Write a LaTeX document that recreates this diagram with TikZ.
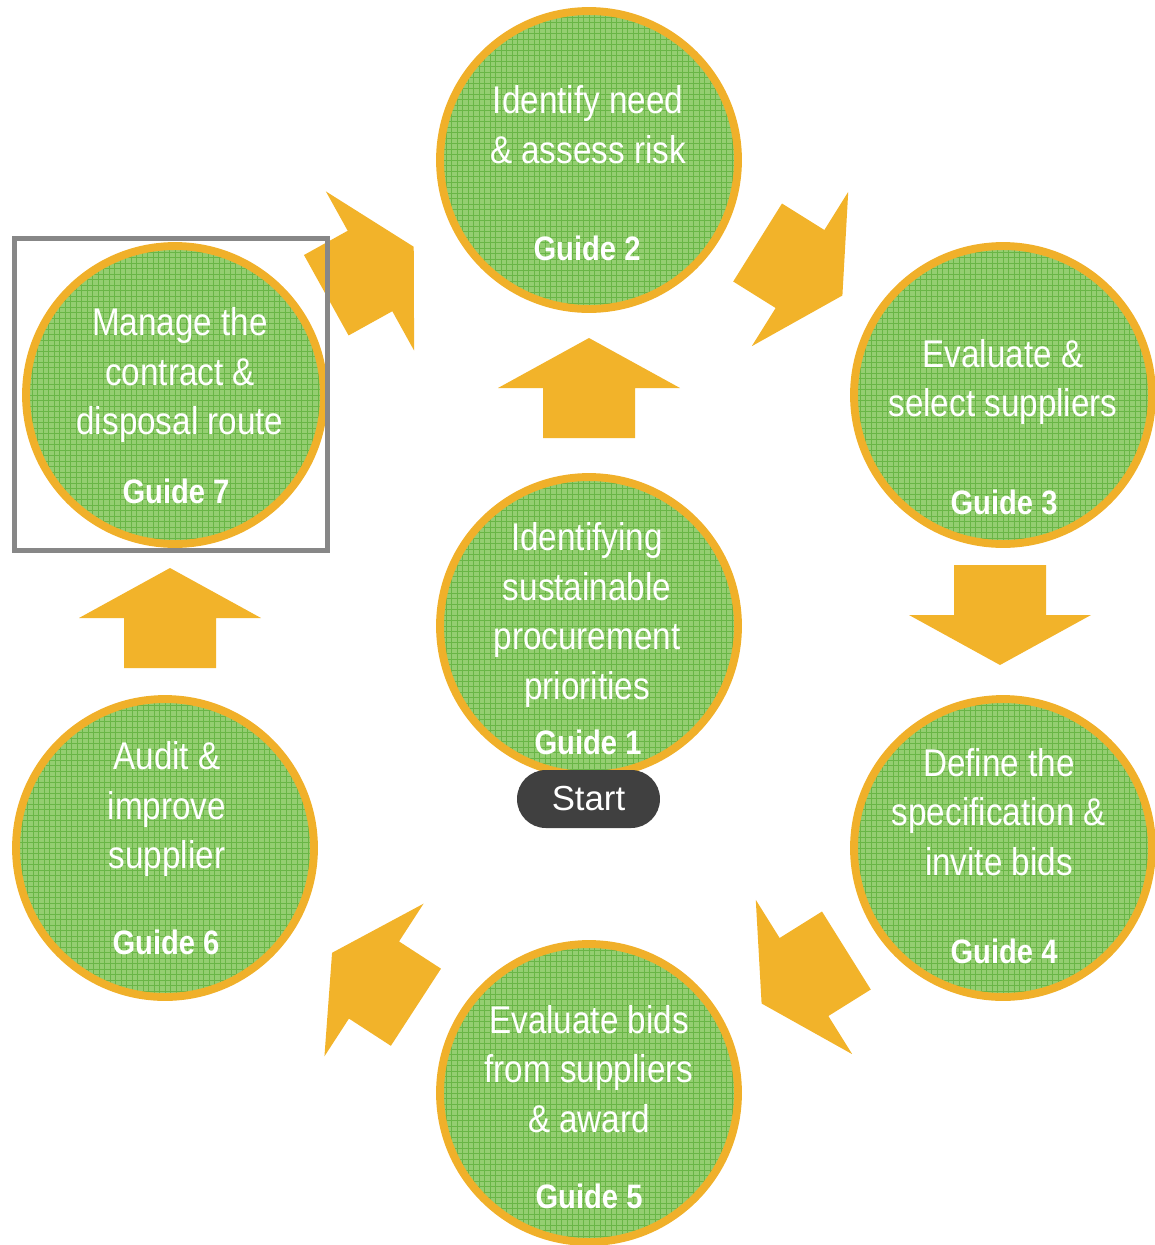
\documentclass[tikz,border=0pt]{standalone}
\usepackage{fontspec}
\setmainfont{Liberation Sans}[FakeStretch=0.86]
\newfontfamily\startfont{Liberation Sans}
\usetikzlibrary{calc}

\definecolor{arroworange}{HTML}{F2B32A}
\definecolor{ringorange}{HTML}{F0B02A}
\definecolor{leafgreen}{HTML}{94CE71}
\definecolor{gridgreen}{HTML}{69B646}
\definecolor{pillgray}{HTML}{404040}
\definecolor{framegray}{HTML}{878787}

\tikzset{
  guidecircle/.style={circle, draw=ringorange, line width=4.5pt, minimum size=5.96cm, inner sep=0pt,
    path picture={
      \fill[leafgreen] (path picture bounding box.south west) rectangle (path picture bounding box.north east);
      \draw[gridgreen, line width=0.45pt] (path picture bounding box.south west) grid[step=0.11cm] (path picture bounding box.north east);
    }},
  bodytext/.style={text=white, align=center, inner sep=0pt, font=\fontsize{22}{28.35}\selectfont},
  guidetext/.style={text=white, inner sep=0pt, font=\bfseries\fontsize{19.3}{23}\selectfont},
  blockarrow/.pic={
    \fill[arroworange] (-50,-46) -- (0,-46) -- (0,-91) -- (50,0) -- (0,91) -- (0,46) -- (-50,46) -- cycle;
  }
}

\begin{document}
\begin{tikzpicture}[x=0.02cm, y=-0.02cm]
  \useasboundingbox (0,0) rectangle (1155,1245);

  % arrows between the steps
  \foreach \ax/\ay/\ang in {589/388/90, 170/618/90, 1000/615/-90, 370/271/29, 800/269/-32, 804/977/-148, 374/980/147} {
    \pic[rotate=\ang] at (\ax,\ay) {blockarrow};
  }

  % circles
  \foreach \n/\cx/\cy in {1/589/626, 2/589/160, 3/1003/395, 4/1003/848, 5/589/1093, 6/165/848, 7/175/395} {
    \node[guidecircle] (g\n) at (\cx,\cy) {};
  }

  % texts
  \node[bodytext] (t1) at (587,615) {Identifying\\sustainable\\procurement\\priorities};
  \node[guidetext] (l1) at (588,742) {Guide 1};
  \node[bodytext] (t2) at (588,125) {Identify need\\\& assess risk};
  \node[guidetext] (l2) at (587,248) {Guide 2};
  \node[bodytext] (t3) at (1003,382) {Evaluate \&\\select suppliers};
  \node[guidetext] (l3) at (1004,502) {Guide 3};
  \node[bodytext] (t4) at (999,812) {Define the\\specification \&\\invite bids};
  \node[guidetext] (l4) at (1004,951) {Guide 4};
  \node[bodytext] (t5) at (589,1069) {Evaluate bids\\from suppliers\\\& award};
  \node[guidetext] (l5) at (589,1196) {Guide 5};
  \node[bodytext] (t6) at (167,809) {Audit \&\\improve\\supplier};
  \node[guidetext] (l6) at (166,942) {Guide 6};
  \node[bodytext] (t7) at (180,375) {Manage the\\contract \&\\disposal route};
  \node[guidetext] (l7) at (176,491) {Guide 7};

  % start
  \node[fill=pillgray, rounded corners=16.4pt, minimum width=2.86cm, minimum height=1.16cm, inner sep=0pt,
        text=white, font=\startfont\fontsize{19.8}{24}\selectfont] (start) at (588.5,799) {Start};

  % frame round guide 7
  \draw[framegray, line width=2.83pt] (14.5,238.5) rectangle (327.5,550.5);
\end{tikzpicture}
\end{document}
